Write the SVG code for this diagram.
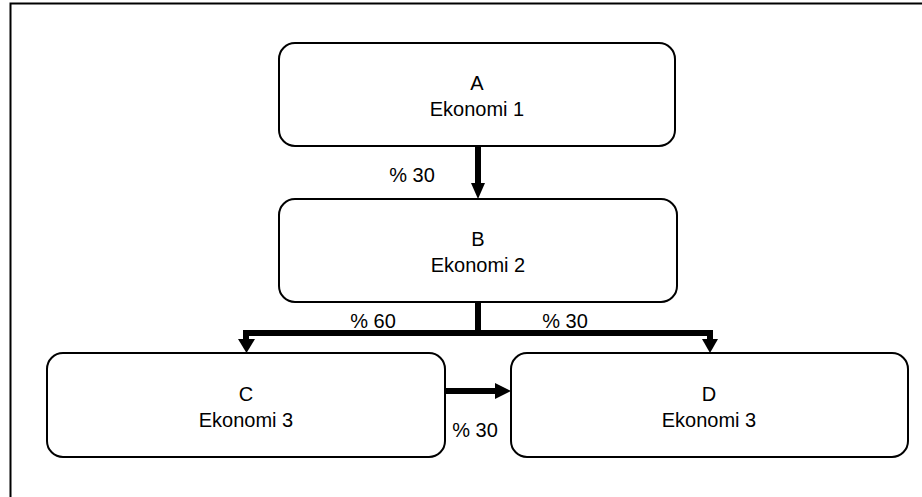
<svg xmlns="http://www.w3.org/2000/svg" width="922" height="497" viewBox="0 0 922 497">
  <defs>
    <style>
      .node rect { fill: #ffffff; stroke: #000000; stroke-width: 2; }
      .node text, .label { font-family: "Liberation Sans", Arial, sans-serif; font-size: 20px; fill: #000000; text-anchor: middle; }
      .frame { stroke: #000000; stroke-width: 2; fill: none; }
      .flow { stroke: #000000; stroke-width: 6; fill: none; }
      .head { fill: #000000; }
    </style>
  </defs>

  <rect x="0" y="0" width="922" height="497" fill="#ffffff"/>

  <!-- page frame (top and left edges only) -->
  <path class="frame" d="M10.5,497 V3.5 H922"/>

  <g id="node-a" class="node">
    <rect x="279" y="43" width="396" height="103" rx="16" ry="16"/>
    <text x="477" y="90">A</text>
    <text x="477" y="116">Ekonomi 1</text>
  </g>

  <g id="node-b" class="node">
    <rect x="279" y="199" width="398" height="103" rx="16" ry="16"/>
    <text x="478" y="246">B</text>
    <text x="478" y="272">Ekonomi 2</text>
  </g>

  <g id="node-c" class="node">
    <rect x="47" y="353" width="398" height="104" rx="16" ry="16"/>
    <text x="246" y="401">C</text>
    <text x="246" y="427">Ekonomi 3</text>
  </g>

  <g id="node-d" class="node">
    <rect x="511" y="353" width="397" height="104" rx="16" ry="16"/>
    <text x="709" y="401">D</text>
    <text x="709" y="427">Ekonomi 3</text>
  </g>

  <g id="connectors">
    <!-- A to B -->
    <line class="flow" x1="478" y1="146" x2="478" y2="184"/>
    <polygon class="head" points="471,183 485,183 478,199"/>

    <!-- B splits to C and D -->
    <path class="flow" d="M478,302 V333 M243,333 H713 M246,330 V340 M710,330 V340"/>
    <polygon class="head" points="238,339 255,339 246.5,353"/>
    <polygon class="head" points="702,339 718,339 710,353"/>

    <!-- C to D -->
    <line class="flow" x1="445" y1="391" x2="496" y2="391"/>
    <polygon class="head" points="495,383 511,391 495,399"/>

    <text class="label" x="412" y="182">% 30</text>
    <text class="label" x="373" y="328">% 60</text>
    <text class="label" x="565" y="328">% 30</text>
    <text class="label" x="475" y="437">% 30</text>
  </g>
</svg>
